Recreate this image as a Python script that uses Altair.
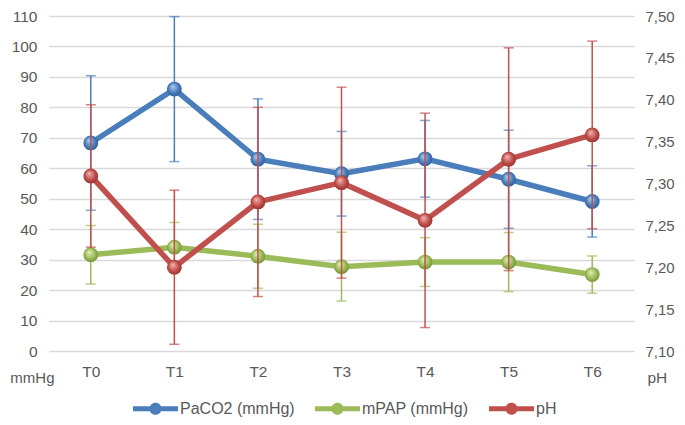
import altair as alt
import pandas as pd

cats = ["T0", "T1", "T2", "T3", "T4", "T5", "T6"]
paco2 = [68.3, 86.0, 63.0, 58.2, 63.1, 56.4, 49.1]
paco2_sd = [22.1, 23.8, 19.8, 13.9, 12.6, 16.1, 11.7]
mpap = [31.6, 34.1, 31.1, 27.7, 29.2, 29.2, 25.1]
mpap_sd = [9.6, 8.1, 10.5, 11.3, 8.0, 9.7, 6.1]
ph = [7.309, 7.200, 7.278, 7.301, 7.256, 7.329, 7.358]
ph_sd = [0.085, 0.092, 0.113, 0.114, 0.128, 0.133, 0.112]

series_names = ["PaCO2 (mmHg)", "mPAP (mmHg)", "pH"]
series_colors = ["#4a7ebb", "#9bbb59", "#c0504d"]
left_ticks = [0, 10, 20, 30, 40, 50, 60, 70, 80, 90, 100, 110]
right_ticks = [7.10, 7.15, 7.20, 7.25, 7.30, 7.35, 7.40, 7.45, 7.50]

FONT = "Liberation Sans"
GRAY = "#595959"
FS = 15.5
H = 335


def frame(name, vals, sds):
    return pd.DataFrame({
        "t": cats,
        "series": name,
        "v": vals,
        "lo": [v - s for v, s in zip(vals, sds)],
        "hi": [v + s for v, s in zip(vals, sds)],
    })


df_p = frame(series_names[0], paco2, paco2_sd)
df_m = frame(series_names[1], mpap, mpap_sd)
df_h = frame(series_names[2], ph, ph_sd)
df_all = pd.concat([df_p, df_m, df_h], ignore_index=True)


def grad(light, mid, dark):
    return alt.RadialGradient(
        gradient="radial",
        x1=0.38, y1=0.32, r1=0.0,
        x2=0.5, y2=0.5, r2=0.62,
        stops=[
            alt.GradientStop(offset=0, color=light),
            alt.GradientStop(offset=0.55, color=mid),
            alt.GradientStop(offset=1, color=dark),
        ],
    )


x_enc = alt.X(
    "t:N",
    scale=alt.Scale(domain=cats, type="point", padding=0.5),
    axis=alt.Axis(title=None, labelPadding=13, ticks=False, domain=False,
                  grid=False, labelAngle=0),
)


def yl(field):
    return alt.Y(
        f"{field}:Q",
        scale=alt.Scale(domain=[0, 110], nice=False, zero=False),
        axis=alt.Axis(
            title="mmHg", values=left_ticks, grid=True, gridColor="#d9d9d9",
            gridWidth=1.5, ticks=False, domain=False, labelPadding=12,
            titleAngle=0, titleX=5, titleY=H + 26, titleAlign="right",
            titleBaseline="middle", titleFont=FONT, titleFontSize=15,
            titleFontWeight="normal", titleColor=GRAY,
        ),
    )


def yr(field):
    return alt.Y(
        f"{field}:Q",
        scale=alt.Scale(domain=[7.10, 7.50], nice=False, zero=False),
        axis=alt.Axis(
            title="pH", orient="right", values=right_ticks, grid=False,
            ticks=False, domain=False, labelPadding=11, labelFontSize=15,
            labelExpr="replace(format(datum.value, '.2f'), '.', ',')",
            titleAngle=0, titleX=13, titleY=H + 26, titleAlign="left",
            titleBaseline="middle", titleFont=FONT, titleFontSize=FS,
            titleFontWeight="normal", titleColor=GRAY,
        ),
    )


def series_layers(df, yfn, color, g):
    err = alt.Chart(df).mark_rule(color=color, strokeWidth=1.5).encode(
        x=x_enc, y=yfn("lo"), y2="hi")
    tlo = alt.Chart(df).mark_tick(color=color, size=10, thickness=1.5).encode(
        x=x_enc, y=yfn("lo"))
    thi = alt.Chart(df).mark_tick(color=color, size=10, thickness=1.5).encode(
        x=x_enc, y=yfn("hi"))
    line = alt.Chart(df).mark_line(strokeWidth=5.5, color=color).encode(
        x=x_enc, y=yfn("v"))
    pts = alt.Chart(df).mark_point(filled=True, fill=g, size=220, opacity=1,
                                   strokeWidth=0).encode(x=x_enc, y=yfn("v"))
    return [err, tlo, thi, line, pts]


legend_path = ("M-1,-0.11 L1,-0.11 L1,0.11 L-1,0.11 Z "
               "M0.27,0 A0.27,0.27 0 1,1 -0.27,0 A0.27,0.27 0 1,1 0.27,0 Z")

legend_layer = alt.Chart(df_all).mark_point(filled=True, opacity=0, size=1).encode(
    x=x_enc,
    y=yl("v"),
    color=alt.Color(
        "series:N",
        scale=alt.Scale(domain=series_names, range=series_colors),
        legend=alt.Legend(
            title=None, orient="none", legendX=84, legendY=H + 35,
            direction="horizontal", symbolType=legend_path, symbolSize=2025,
            symbolStrokeWidth=0, symbolOpacity=1, labelFont=FONT,
            labelFontSize=16, labelColor=GRAY, columnPadding=20, labelOffset=2,
        ),
    ),
)

left = alt.layer(
    *series_layers(df_p, yl, series_colors[0], grad("#b5cff2", "#4a7ebb", "#24508f")),
    *series_layers(df_m, yl, series_colors[1], grad("#e4f2b8", "#9bbb59", "#64812a")),
    legend_layer,
)
right = alt.layer(
    *series_layers(df_h, yr, series_colors[2], grad("#f5b9b7", "#c0504d", "#862522")),
)

chart = alt.layer(left, right).resolve_scale(y="independent").properties(
    width=585, height=H, autosize="none",
    padding={"left": 41, "top": 8, "right": 43, "bottom": 66},
).configure_view(stroke=None).configure_axis(
    labelFont=FONT, labelFontSize=FS, labelColor=GRAY,
)

chart.save("out.html", embed_options={"renderer": "svg", "actions": False})
